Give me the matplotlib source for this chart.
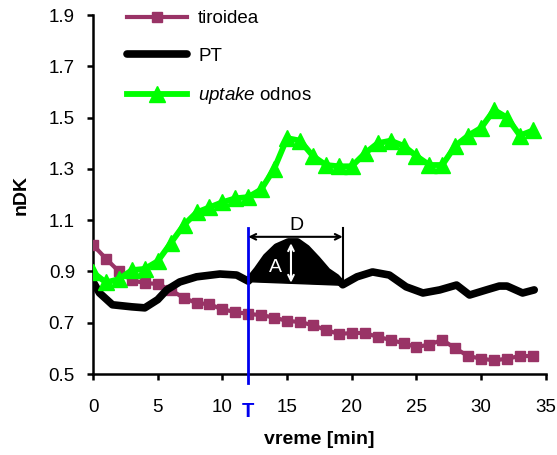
import numpy as np
import matplotlib
matplotlib.use("Agg")
import matplotlib.pyplot as plt

plt.rcParams['font.family'] = ['Liberation Sans', 'DejaVu Sans']
plt.rcParams['mathtext.fontset'] = 'custom'
plt.rcParams['mathtext.rm'] = 'Liberation Sans'
plt.rcParams['mathtext.it'] = 'Liberation Sans:italic'

# ---- data ----
minutes = [0, 1, 2, 3, 4, 5, 6, 7, 8, 9, 10, 11, 12, 13, 14, 15, 16, 17,
           18, 19, 20, 21, 22, 23, 24, 25, 26, 27, 28, 29, 30, 31, 32, 33, 34]
tiroidea = [1.003, 0.95, 0.90, 0.865, 0.855, 0.851, 0.828, 0.797, 0.777, 0.772,
            0.752, 0.742, 0.734, 0.73, 0.72, 0.707, 0.703, 0.69, 0.672, 0.656,
            0.66, 0.66, 0.645, 0.633, 0.62, 0.605, 0.615, 0.633, 0.60, 0.57,
            0.56, 0.553, 0.56, 0.57, 0.57]
uptake = [0.896, 0.857, 0.87, 0.905, 0.91, 0.94, 1.01, 1.08, 1.13, 1.15,
          1.17, 1.185, 1.19, 1.22, 1.30, 1.42, 1.41, 1.35, 1.315, 1.31,
          1.31, 1.36, 1.40, 1.41, 1.39, 1.35, 1.315, 1.315, 1.39, 1.43,
          1.46, 1.53, 1.50, 1.43, 1.45]
pt_time = [0, 0.5, 1.5, 3.0, 4.0, 5.0, 5.7, 6.7, 8.0, 9.8, 11.1, 12.0, 12.7,
           13.4, 14.2, 15.1, 15.8, 16.5, 17.3, 18.1, 18.8, 19.3, 20.4, 21.6,
           22.9, 24.2, 25.5, 26.8, 28.1, 29.1, 30.4, 31.4, 32.0, 33.2, 34.1]
pt = [0.86, 0.816, 0.77, 0.762, 0.758, 0.79, 0.828, 0.859, 0.879, 0.89, 0.886,
      0.862, 0.906, 0.956, 0.995, 1.015, 1.015, 0.99, 0.947, 0.9, 0.876, 0.848,
      0.879, 0.898, 0.886, 0.84, 0.816, 0.828, 0.847, 0.808, 0.828, 0.843,
      0.843, 0.816, 0.828]
x_ticks = [0, 5, 10, 15, 20, 25, 30, 35]
y_ticks = [0.5, 0.7, 0.9, 1.1, 1.3, 1.5, 1.7, 1.9]
T_time = 12
D_end = 19.3

fig = plt.figure(figsize=(5.57, 4.55), dpi=100)
ax = fig.add_axes([0.167, 0.178, 0.813, 0.789])

ax.plot(minutes, tiroidea, color='#993366', lw=3.0, marker='s', ms=6.5,
        label='tiroidea', zorder=3)
ax.plot(pt_time, pt, color='black', lw=5.5, solid_joinstyle='round',
        solid_capstyle='round', label='PT', zorder=4)
ax.plot(minutes, uptake, color='#00FF00', lw=4.2, marker='^', ms=12,
        label=r'$uptake$ odnos', zorder=5)

# filled peak between T and end of D
pt_t = np.array(pt_time)
pt_v = np.array(pt)
mask = (pt_t >= T_time) & (pt_t <= D_end)
base = np.interp(pt_t[mask], [T_time, D_end],
                 [np.interp(T_time, pt_t, pt_v), np.interp(D_end, pt_t, pt_v)])
ax.fill_between(pt_t[mask], base, pt_v[mask], color='black', zorder=4)

# T marker line
ax.plot([T_time, T_time], [0.465, 1.07], color='#0000EE', lw=2,
        clip_on=False, zorder=6)
# D bracket
ax.plot([D_end, D_end], [0.848, 1.07], color='black', lw=1.5, zorder=6)
ax.annotate('', xy=(T_time, 1.035), xytext=(D_end, 1.035),
            arrowprops=dict(arrowstyle='<->', color='black', lw=1.5,
                            shrinkA=0, shrinkB=0), zorder=7)
ax.text((T_time + D_end) / 2 + 0.1, 1.045, 'D', ha='center', va='bottom',
        fontsize=14, zorder=7)
# A arrow
ax.annotate('', xy=(15.3, 1.01), xytext=(15.3, 0.856),
            arrowprops=dict(arrowstyle='<->', color='white', lw=1.5,
                            shrinkA=0, shrinkB=0), zorder=7)
ax.text(14.1, 0.915, 'A', color='white', ha='center', va='center',
        fontsize=14, zorder=7)

ax.set_xlim(0, 35)
ax.set_ylim(0.5, 1.9)
ax.set_xticks(x_ticks)
ax.set_xticklabels([str(v) for v in x_ticks])
ax.set_yticks(y_ticks)
ax.set_yticklabels([f'{v:.1f}' for v in y_ticks])
ax.tick_params(axis='both', direction='out', length=4, width=1.8,
               labelsize=13.5)
ax.tick_params(axis='y', pad=9)
ax.tick_params(axis='x', pad=14)
for s in ['top', 'right']:
    ax.spines[s].set_visible(False)
for s in ['left', 'bottom']:
    ax.spines[s].set_linewidth(1.8)

ax.text(T_time, -0.078, 'T', transform=ax.get_xaxis_transform(),
        color='#0000EE', fontsize=14.5, fontweight='bold', ha='center', va='top')

ax.set_xlabel('vreme [min]', fontsize=14, fontweight='bold', labelpad=11)
ax.set_ylabel('nDK', fontsize=14, fontweight='bold', labelpad=14)

leg = ax.legend(loc='upper left', bbox_to_anchor=(0.058, 1.035), frameon=False,
                fontsize=13.5, handlelength=3.2, labelspacing=1.1,
                handletextpad=0.6, numpoints=1, borderaxespad=0)

fig.savefig('out.png', dpi=100)
